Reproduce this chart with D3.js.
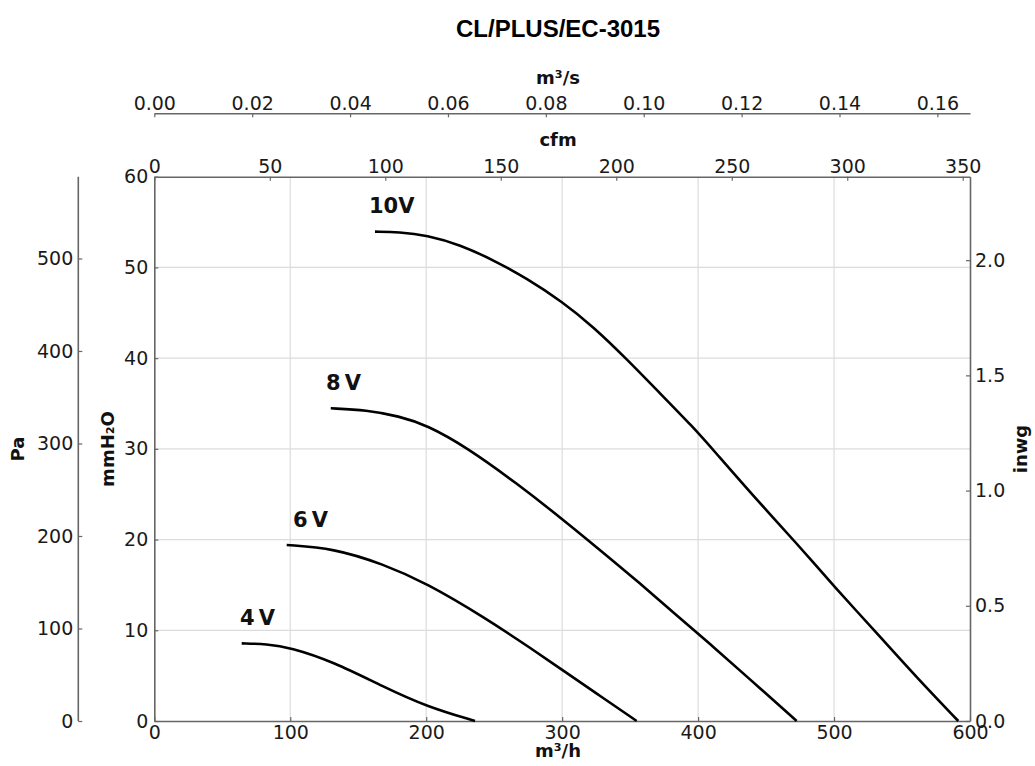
<!DOCTYPE html>
<html>
<head>
<meta charset="utf-8">
<script src="https://cdn.jsdelivr.net/npm/d3@7"></script>
<style>
  html, body { margin: 0; padding: 0; background: #fff; }
  svg { display: block; }
</style>
</head>
<body>
<svg id="chart" width="1035" height="766"></svg>
<script>
// ---- data ----
const title = "CL/PLUS/EC-3015";
const seriesNames = ["10V", "8\u2009V", "6\u2009V", "4\u2009V"];
// flow in m³/h, pressure in mmH2O
const flow10 = [162.3, 180.0, 200.4, 225.0, 249.4, 273.9, 300.1, 322.9, 347.5, 372.0, 396.5, 411.2, 440.0, 472.5, 500.2, 533.8, 562.0, 591.4];
const press10 = [53.94, 53.90, 53.57, 52.50, 50.81, 48.80, 46.22, 43.46, 39.90, 36.12, 32.37, 29.87, 24.90, 19.59, 14.80, 9.30, 4.60, 0];
const flow8 = [129.8, 156.2, 180.0, 200.4, 229.8, 266.6, 300.4, 327.8, 357.3, 386.7, 411.2, 435.7, 472.5];
const press8 = [34.47, 34.28, 33.60, 32.63, 30.17, 26.20, 22.23, 18.85, 15.18, 11.32, 8.19, 4.92, 0];
const flow6 = [97.4, 131.7, 168.4, 200.4, 242.0, 278.8, 300.4, 327.8, 354.8];
const press6 = [19.40, 19.04, 17.30, 15.18, 11.50, 7.83, 5.60, 2.78, 0];
const flow4 = [64.3, 82.7, 99.8, 131.7, 168.4, 200.4, 235.9];
const press4 = [8.56, 8.49, 8.12, 6.54, 3.78, 1.58, 0];
// label anchor (m³/h, mmH2O)
const labelFlow = [157.9, 126.3, 102.0, 63.0];
const labelPress = [56.0, 36.49, 21.38, 10.58];

const m3hTicks = [0, 100, 200, 300, 400, 500, 600];
const mmTicks = [0, 10, 20, 30, 40, 50, 60];
const paTicks = [0, 100, 200, 300, 400, 500];
const inwgTicks = [0.0, 0.5, 1.0, 1.5, 2.0];
const cfmTicks = [0, 50, 100, 150, 200, 250, 300, 350];
const m3sTicks = [0.00, 0.02, 0.04, 0.06, 0.08, 0.10, 0.12, 0.14, 0.16];

const seriesFlow = [flow10, flow8, flow6, flow4];
const seriesPress = [press10, press8, press6, press4];

// ---- layout ----
const L = 154.3, R = 970, T = 176.7, B = 721;
const xMax = 600, yMax = 60;
const x = d3.scaleLinear([0, xMax], [L, R]);
const y = d3.scaleLinear([0, yMax], [B, T]);
const yPa = d3.scaleLinear([0, yMax * 9.80665], [B, T]);
const yIn = d3.scaleLinear([0, yMax / 25.4], [B, T]);
const xCfm = d3.scaleLinear([0, xMax / 1.699011], [L, R]);
const xM3s = d3.scaleLinear([0, xMax / 3600], [L, R]);

const svg = d3.select("#chart");
const FONT = "DejaVu Sans, sans-serif";
const spineColor = "#666";
const textColor = "#1a1a1a";

// grid
const grid = svg.append("g");
grid.selectAll("line.v").data(m3hTicks.slice(1, -1)).join("line")
  .attr("x1", d => x(d)).attr("x2", d => x(d)).attr("y1", T).attr("y2", B)
  .attr("stroke", "#dcdcdc").attr("stroke-width", 1.2);
grid.selectAll("line.h").data(mmTicks.slice(1, -1)).join("line")
  .attr("y1", d => y(d)).attr("y2", d => y(d)).attr("x1", L).attr("x2", R)
  .attr("stroke", "#dcdcdc").attr("stroke-width", 1.2);

function styleAxis(g) {
  g.selectAll("path.domain").attr("stroke", spineColor).attr("stroke-width", 1.6);
  g.selectAll(".tick line").attr("stroke", spineColor).attr("stroke-width", 1.2);
  g.selectAll(".tick text").attr("fill", textColor).attr("font-family", FONT).attr("font-size", 19);
  g.attr("font-family", null).attr("font-size", null);
}

// bottom m3/h
svg.append("g").attr("transform", `translate(0,${B})`)
  .call(d3.axisBottom(x).tickValues(m3hTicks).tickFormat(d3.format("d")).tickSize(-4).tickSizeOuter(0).tickPadding(5))
  .call(styleAxis);
// left mmH2O
svg.append("g").attr("transform", `translate(${L},0)`)
  .call(d3.axisLeft(y).tickValues(mmTicks).tickFormat(d3.format("d")).tickSize(-4).tickSizeOuter(0).tickPadding(6))
  .call(styleAxis);
// right inwg
svg.append("g").attr("transform", `translate(${R},0)`)
  .call(d3.axisRight(yIn).tickValues(inwgTicks).tickFormat(d3.format(".1f")).tickSize(-4).tickSizeOuter(0).tickPadding(5))
  .call(styleAxis);
// top cfm
svg.append("g").attr("transform", `translate(0,${T})`)
  .call(d3.axisTop(xCfm).tickValues(cfmTicks).tickFormat(d3.format("d")).tickSize(-4).tickSizeOuter(0).tickPadding(4))
  .call(styleAxis);
// far left Pa
svg.append("g").attr("transform", `translate(78.3,0)`)
  .call(d3.axisLeft(yPa).tickValues(paTicks).tickFormat(d3.format("d")).tickSize(-4).tickSizeOuter(0).tickPadding(5))
  .call(styleAxis)
  .call(g => g.select("path.domain").attr("d", `M0,${T}V${B}`));
// top m3/s
svg.append("g").attr("transform", `translate(0,113.3)`)
  .call(d3.axisTop(xM3s).tickValues(m3sTicks).tickFormat(d3.format(".2f")).tickSize(-4).tickSizeOuter(0).tickPadding(3))
  .call(styleAxis);

// curves
const line = d3.line().x(d => x(d[0])).y(d => y(d[1])).curve(d3.curveBasis);
seriesFlow.forEach((fl, i) => {
  const pts = fl.map((f, j) => [f, seriesPress[i][j]]);
  svg.append("path").attr("d", line(pts)).attr("fill", "none")
    .attr("stroke", "#000").attr("stroke-width", 2.6);
  svg.append("text").attr("x", x(labelFlow[i])).attr("y", y(labelPress[i]))
    .attr("font-family", FONT).attr("font-weight", "bold").attr("font-size", 21)
    .attr("fill", "#111").text(seriesNames[i]);
});

// axis titles
function label(txt, tx, ty, rot) {
  svg.append("text").attr("transform", `translate(${tx},${ty}) rotate(${rot})`)
    .attr("text-anchor", "middle").attr("font-family", FONT).attr("font-weight", "bold")
    .attr("font-size", 18).attr("fill", "#111").text(txt);
}
label("m³/s", 558, 84, 0);
label("cfm", 558, 146, 0);
label("m³/h", 558, 757, 0);
label("Pa", 24, 449, -90);
label("mmH₂O", 114, 449, -90);
label("inwg", 1027, 449, -90);

svg.append("text").attr("x", 558).attr("y", 37).attr("text-anchor", "middle")
  .attr("font-family", "Liberation Sans, Arial, sans-serif").attr("font-weight", "bold")
  .attr("font-size", 24).attr("fill", "#000").text(title);
</script>
</body>
</html>
